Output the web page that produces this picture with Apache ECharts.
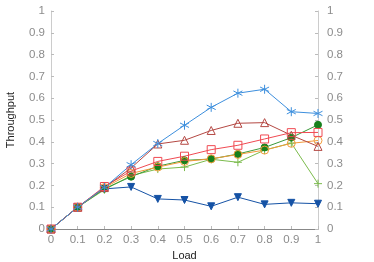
<!DOCTYPE html>
<html><head><meta charset="utf-8">
<script src="https://cdn.jsdelivr.net/npm/echarts@6/dist/echarts.min.js"></script>
<style>html,body{margin:0;padding:0;background:#fff}#c{width:374px;height:262px}</style>
</head><body><div id="c"></div>
<script>
var loads = ['0','0.1','0.2','0.3','0.4','0.5','0.6','0.7','0.8','0.9','1'];
var yTicks = [0,0.1,0.2,0.3,0.4,0.5,0.6,0.7,0.8,0.9,1];
var sAsterisk = [0,0.1,0.19,0.295,0.392,0.476,0.558,0.623,0.641,0.538,0.53];
var sTriangle = [0,0.1,0.19,0.28,0.39,0.407,0.452,0.485,0.488,0.43,0.379];
var sSquare   = [0,0.1,0.195,0.266,0.31,0.334,0.364,0.384,0.413,0.442,0.443];
var sOrange   = [0,0.1,0.19,0.255,0.284,0.31,0.322,0.342,0.362,0.393,0.406];
var sGreen    = [0,0.1,0.185,0.24,0.288,0.315,0.321,0.344,0.374,0.419,0.478];
var sPlus     = [0,0.1,0.18,0.245,0.275,0.284,0.32,0.306,0.362,0.394,0.208];
var sDown     = [0,0.1,0.184,0.193,0.138,0.133,0.104,0.146,0.113,0.12,0.116];

var ast = 'path://M0,-1L0,1M-0.87,-0.5L0.87,0.5M-0.87,0.5L0.87,-0.5';
var plus = 'path://M0,-1L0,1M-1,0L1,0';
function ser(name, data, c, sym, opts) {
  var s = {
    name: name, type: 'line', data: data, symbol: sym, symbolSize: 7,
    lineStyle: {color: c, width: 1},
    itemStyle: {color: 'rgba(0,0,0,0)', borderColor: c, borderWidth: 1},
    emphasis: {disabled: true}, animation: false
  };
  for (var k in opts) s[k] = opts[k];
  return s;
}
function fmt(v){ return String(Math.round(v*10)/10); }
var chart = echarts.init(document.getElementById('c'));
var lab = {color: '#8c8c8c', fontSize: 11.5, fontFamily: 'Liberation Sans'};
chart.setOption({
  animation: false,
  grid: {left: 51, right: 56, top: 11, bottom: 33, containLabel: false, outerBoundsMode: 'none'},
  xAxis: [{
    type: 'category', data: loads, boundaryGap: false, position: 'bottom',
    name: 'Load', nameLocation: 'middle', nameGap: 19,
    nameTextStyle: {color: '#222', fontSize: 11, fontFamily: 'Liberation Sans'},
    axisLine: {lineStyle: {color: '#cccccc'}},
    axisTick: {inside: true, length: 3, lineStyle: {color: '#bbbbbb'}},
    axisLabel: Object.assign({margin: 5}, lab),
    splitLine: {show: false}
  }, {
    type: 'category', data: loads, boundaryGap: false, position: 'top',
    axisLine: {lineStyle: {color: '#888888'}},
    axisTick: {show: false}, axisLabel: {show: false}, splitLine: {show: false}
  }],
  yAxis: [{
    type: 'value', min: 0, max: 1, interval: 0.1, position: 'left',
    name: 'Throughput', nameLocation: 'middle', nameGap: 35, nameRotate: 90,
    nameTextStyle: {color: '#222', fontSize: 11, fontFamily: 'Liberation Sans'},
    axisLine: {show: true, lineStyle: {color: '#cccccc'}},
    axisTick: {show: true, inside: true, length: 3, lineStyle: {color: '#bbbbbb'}},
    axisLabel: Object.assign({margin: 6, formatter: fmt}, lab),
    splitLine: {show: false}
  }, {
    type: 'value', min: 0, max: 1, interval: 0.1, position: 'right',
    axisLine: {show: true, lineStyle: {color: '#cccccc'}},
    axisTick: {show: true, inside: true, length: 3, lineStyle: {color: '#bbbbbb'}},
    axisLabel: Object.assign({margin: 9, formatter: fmt}, lab),
    splitLine: {show: false}
  }],
  series: [
    ser('down', sDown, '#1552a5', 'triangle', {symbolRotate: 180, itemStyle: {color: '#1552a5', borderColor: '#1552a5', borderWidth: 1}}),
    ser('plus', sPlus, '#7bbb4c', plus, {symbolSize: 8}),
    ser('green', sGreen, '#3a9a3a', 'circle', {itemStyle: {color: '#17801c', borderColor: '#17801c', borderWidth: 1}}),
    ser('orange', sOrange, '#f29a38', 'circle', {symbolSize: 8}),
    ser('square', sSquare, '#f04a52', 'rect', {symbolSize: 8}),
    ser('triangle', sTriangle, '#b44843', 'triangle', {symbolSize: 8}),
    ser('asterisk', sAsterisk, '#3d8fdd', ast, {symbolSize: 9})
  ]
});
</script></body></html>
